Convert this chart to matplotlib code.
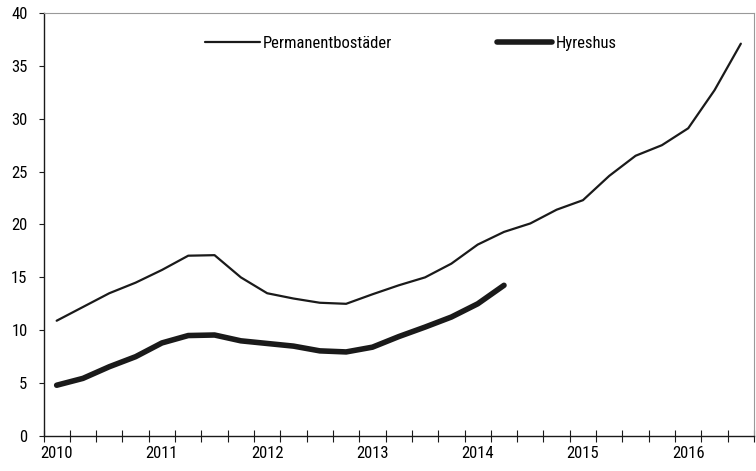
import numpy as np
import matplotlib.pyplot as plt

# Quarterly values, 2010 Q1 - 2016 Q3
permanent = [10.9, 12.2, 13.5, 14.5, 15.7, 17.05, 17.1, 15.0, 13.5, 13.0,
             12.6, 12.5, 13.4, 14.25, 15.0, 16.3, 18.1, 19.3, 20.1, 21.4,
             22.3, 24.6, 26.5, 27.5, 29.1, 32.7, 37.1]
hyreshus = [4.8, 5.45, 6.55, 7.5, 8.8, 9.5, 9.55, 9.0, 8.75, 8.5,
            8.05, 7.95, 8.4, 9.4, 10.3, 11.25, 12.5, 14.25]
years = ["2010", "2011", "2012", "2013", "2014", "2015", "2016"]

plt.rcParams["font.family"] = ["Roboto Condensed", "Archivo Narrow", "Barlow Semi Condensed", "DejaVu Sans"]
plt.rcParams["font.size"] = 12

fig = plt.figure(figsize=(7.56, 4.71), dpi=100)
ax = fig.add_axes([43.5 / 756, 1 - 436 / 471, (754 - 43.5) / 756, (436 - 13) / 471])

col = "#1a1a1a"
ax.plot(np.arange(len(permanent)), permanent, color=col, lw=1.6,
        label="Permanentbostäder", solid_capstyle="round", solid_joinstyle="round")
ax.plot(np.arange(len(hyreshus)), hyreshus, color=col, lw=4.0,
        label="Hyreshus", solid_capstyle="round", solid_joinstyle="round")

ax.set_xlim(-0.5, len(permanent) - 0.5)
ax.set_ylim(0, 40)
ax.set_yticks(range(0, 41, 5))

ax.set_xticks(np.arange(0, len(permanent), 4))
ax.set_xticklabels(years)
ax.set_xticks(np.arange(-0.5, len(permanent), 1), minor=True)
ax.tick_params(axis="x", which="major", length=0, pad=7)
ax.tick_params(axis="x", which="minor", direction="inout", length=9, width=0.8, color=col)
ax.tick_params(axis="y", direction="out", length=3.5, width=0.8, color=col, pad=8)

for s in ["left", "bottom"]:
    ax.spines[s].set_color(col)
    ax.spines[s].set_linewidth(1.0)
for s in ["top", "right"]:
    ax.spines[s].set_color("#999999")
    ax.spines[s].set_linewidth(0.8)

ax.legend(loc="upper left", bbox_to_anchor=(0.206, 0.982), ncol=2, frameon=False,
          handlelength=3.3, handletextpad=0.2, columnspacing=6.3, fontsize=12)

fig.savefig("out.png", dpi=100)
